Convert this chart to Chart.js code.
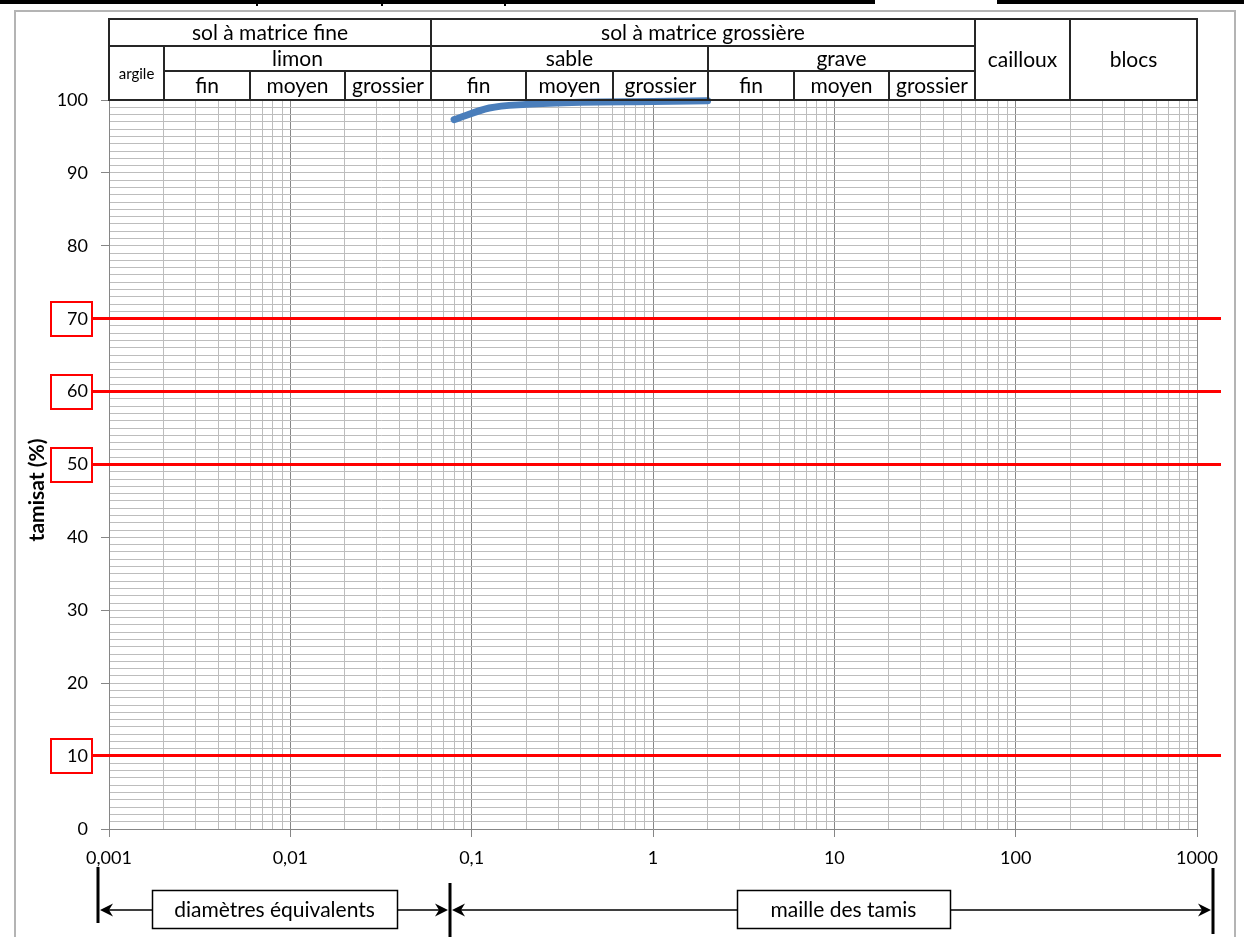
<!DOCTYPE html>
<html>
<head>
<meta charset="utf-8">
<title>Courbe granulométrique</title>
<script src="https://cdn.jsdelivr.net/npm/chart.js@4.4.1/dist/chart.umd.min.js"></script>
<style>
  html, body { margin: 0; padding: 0; background: #ffffff; }
  #wrap { position: relative; width: 1244px; height: 937px; }
</style>
</head>
<body>
<div id="wrap"><canvas id="granulo" width="1244" height="937"></canvas></div>
<script>
// ---- Sieve analysis results ----
const sieveSizes = [0.08, 0.125, 0.2, 0.4, 1, 2];          // mesh (mm)
const passingPct = [97.3, 98.9, 99.4, 99.7, 99.8, 99.9];    // passing (%)

// ---- Axis labels ----
const xTickLabels = ['0,001', '0,01', '0,1', '1', '10', '100', '1000'];
const yTickLabels = ['0', '10', '20', '30', '40', '50', '60', '70', '80', '90', '100'];
const yTitle = 'tamisat (%)';

// ---- Reference passing levels highlighted in red ----
const markedLevels = [70, 60, 50, 10];

// ---- Soil classification bands (limits in mm) ----
const bandsTop = [
  { label: 'sol à matrice fine', from: 0.001, to: 0.06 },
  { label: 'sol à matrice grossière', from: 0.06, to: 60 },
  { label: 'cailloux', from: 60, to: 200, span: true },
  { label: 'blocs', from: 200, to: 1000, span: true }
];
const bandsMid = [
  { label: 'argile', from: 0.001, to: 0.002, span: true },
  { label: 'limon', from: 0.002, to: 0.06 },
  { label: 'sable', from: 0.06, to: 2 },
  { label: 'grave', from: 2, to: 60 }
];
const bandsLow = [
  { label: 'fin', from: 0.002, to: 0.006 },
  { label: 'moyen', from: 0.006, to: 0.02 },
  { label: 'grossier', from: 0.02, to: 0.06 },
  { label: 'fin', from: 0.06, to: 0.2 },
  { label: 'moyen', from: 0.2, to: 0.6 },
  { label: 'grossier', from: 0.6, to: 2 },
  { label: 'fin', from: 2, to: 6 },
  { label: 'moyen', from: 6, to: 20 },
  { label: 'grossier', from: 20, to: 60 }
];

// ---- Bottom range annotations ----
const rangeNotes = ['diamètres équivalents', 'maille des tamis'];

const FONT = 'Lato, "Open Sans", sans-serif';
Chart.defaults.font.family = FONT;
Chart.defaults.color = '#000000';

const isDecade = v => Math.abs(Math.log10(v) - Math.round(Math.log10(v))) < 1e-9;

// grid positions: 1..9 per decade on x, every unit on y
const xGrid = [];
for (let e = -3; e <= 2; e++) {
  for (let m = 1; m <= 9; m++) xGrid.push(Number((m * Math.pow(10, e)).toPrecision(6)));
}
xGrid.push(1000);
const yGrid = [];
for (let v = 0; v <= 100; v++) yGrid.push(v);

function arrowHead(ctx, x, y, dir) {
  // dir = -1 points left, +1 points right
  ctx.beginPath();
  ctx.moveTo(x, y);
  ctx.lineTo(x - dir * 13, y - 6.5);
  ctx.lineTo(x - dir * 9, y);
  ctx.lineTo(x - dir * 13, y + 6.5);
  ctx.closePath();
  ctx.fill();
}

function fitText(ctx, text, maxW, size) {
  let s = size;
  ctx.font = s + 'px ' + FONT;
  while (ctx.measureText(text).width > maxW && s > 9) {
    s -= 0.5;
    ctx.font = s + 'px ' + FONT;
  }
}

const decor = {
  id: 'decor',
  afterDraw(chart) {
    const { ctx, chartArea: a, scales } = chart;
    const xs = scales.x, ys = scales.y;
    const px = v => Math.round(xs.getPixelForValue(v));

    ctx.save();

    // outer frame
    ctx.strokeStyle = '#b4b4b4';
    ctx.lineWidth = 2;
    ctx.beginPath();
    ctx.moveTo(15, 940); ctx.lineTo(15, 11); ctx.lineTo(1235, 11); ctx.lineTo(1235, 940);
    ctx.stroke();

    // page rule at the very top
    ctx.fillStyle = '#000000';
    ctx.fillRect(0, 0, 875, 4);
    ctx.fillRect(997, 0, 247, 4);
    [256, 381, 504].forEach(x => ctx.fillRect(x, 0, 2, 6));

    // classification header
    const rows = [a.top - 81, a.top - 54, a.top - 29, a.top];
    ctx.strokeStyle = '#262626';
    ctx.lineWidth = 2;
    const cell = (b, r0, r1, size) => {
      const x0 = px(b.from), x1 = px(b.to);
      const y0 = rows[r0], y1 = rows[r1];
      ctx.strokeRect(x0, y0, x1 - x0, y1 - y0);
      fitText(ctx, b.label, x1 - x0 - 6, size);
      ctx.fillStyle = '#000000';
      ctx.textAlign = 'center';
      ctx.textBaseline = 'middle';
      ctx.fillText(b.label, (x0 + x1) / 2, (y0 + y1) / 2 + 1);
    };
    bandsTop.forEach(b => cell(b, 0, b.span ? 3 : 1, 21));
    bandsMid.forEach(b => cell(b, 1, b.span ? 3 : 2, b.span ? 15 : 21));
    bandsLow.forEach(b => cell(b, 2, 3, 21));

    // highlighted passing levels
    markedLevels.forEach(lv => {
      const y = Math.round(ys.getPixelForValue(lv));
      ctx.strokeStyle = '#ff0000';
      ctx.lineWidth = 3;
      ctx.beginPath();
      ctx.moveTo(93, y - 0.5);
      ctx.lineTo(1221, y - 0.5);
      ctx.stroke();
      ctx.lineWidth = 2;
      ctx.strokeRect(51, y - 17, 41, 34);
    });

    // bottom range arrows
    const ay = 910;
    ctx.strokeStyle = '#000000';
    ctx.fillStyle = '#000000';
    ctx.lineWidth = 3;
    ctx.beginPath();
    ctx.moveTo(98, 867); ctx.lineTo(98, 923);
    ctx.moveTo(450, 883); ctx.lineTo(450, 940);
    ctx.moveTo(1213, 868); ctx.lineTo(1213, 934);
    ctx.stroke();

    ctx.lineWidth = 1.5;
    const boxes = [
      { x0: 152, x1: 397, from: 100, to: 448 },
      { x0: 737, x1: 950, from: 452, to: 1211 }
    ];
    boxes.forEach((bx, i) => {
      ctx.beginPath();
      ctx.moveTo(bx.from + 8, ay); ctx.lineTo(bx.x0, ay);
      ctx.moveTo(bx.x1, ay); ctx.lineTo(bx.to - 8, ay);
      ctx.stroke();
      arrowHead(ctx, bx.from, ay, -1);
      arrowHead(ctx, bx.to, ay, 1);
      ctx.strokeRect(bx.x0 + 0.5, 890.5, bx.x1 - bx.x0, 38);
      ctx.font = '21px ' + FONT;
      ctx.textAlign = 'center';
      ctx.textBaseline = 'middle';
      ctx.fillText(rangeNotes[i], (bx.x0 + bx.x1) / 2, ay);
    });

    // vertical axis title
    ctx.save();
    ctx.translate(37, 490);
    ctx.rotate(-Math.PI / 2);
    ctx.font = 'bold 21px ' + FONT;
    ctx.textAlign = 'center';
    ctx.textBaseline = 'middle';
    ctx.fillText(yTitle, 0, 0);
    ctx.restore();

    ctx.restore();
  }
};

new Chart(document.getElementById('granulo'), {
  type: 'line',
  data: {
    datasets: [{
      data: sieveSizes.map((s, i) => ({ x: s, y: passingPct[i] })),
      borderColor: '#4a7ebb',
      borderWidth: 7,
      borderCapStyle: 'round',
      borderJoinStyle: 'round',
      cubicInterpolationMode: 'monotone',
      pointRadius: 0,
      fill: false,
      clip: false
    }]
  },
  options: {
    responsive: false,
    animation: false,
    devicePixelRatio: 1,
    layout: { padding: { top: 100, right: 47, left: 0, bottom: 0 } },
    plugins: { legend: { display: false }, tooltip: { enabled: false } },
    scales: {
      x: {
        type: 'logarithmic',
        min: 0.001,
        max: 1000,
        afterBuildTicks: s => { s.ticks = xGrid.map(v => ({ value: v, major: isDecade(v) })); },
        afterFit: s => { s.height = 108; },
        border: { color: '#868686', width: 1 },
        grid: {
          color: c => (c.tick && isDecade(c.tick.value)) ? '#878787' : '#bdbdbd',
          tickColor: c => (c.tick && isDecade(c.tick.value)) ? '#868686' : 'rgba(0,0,0,0)',
          tickLength: 8,
          lineWidth: 1
        },
        ticks: {
          autoSkip: false,
          maxRotation: 0,
          padding: 10,
          font: { size: 18 },
          color: '#000000',
          callback: v => isDecade(v) ? xTickLabels[Math.round(Math.log10(v)) + 3] : ''
        }
      },
      y: {
        min: 0,
        max: 100,
        afterBuildTicks: s => { s.ticks = yGrid.map(v => ({ value: v })); },
        afterFit: s => { s.width = 109; },
        border: { color: '#868686', width: 1 },
        grid: {
          color: '#bdbdbd',
          tickColor: c => (c.tick && c.tick.value % 10 === 0) ? '#868686' : 'rgba(0,0,0,0)',
          tickLength: 8,
          lineWidth: 1
        },
        ticks: {
          autoSkip: false,
          padding: 13,
          font: { size: 18 },
          color: '#000000',
          callback: v => v % 10 === 0 ? yTickLabels[v / 10] : ''
        }
      }
    }
  },
  plugins: [decor]
});
</script>
</body>
</html>
